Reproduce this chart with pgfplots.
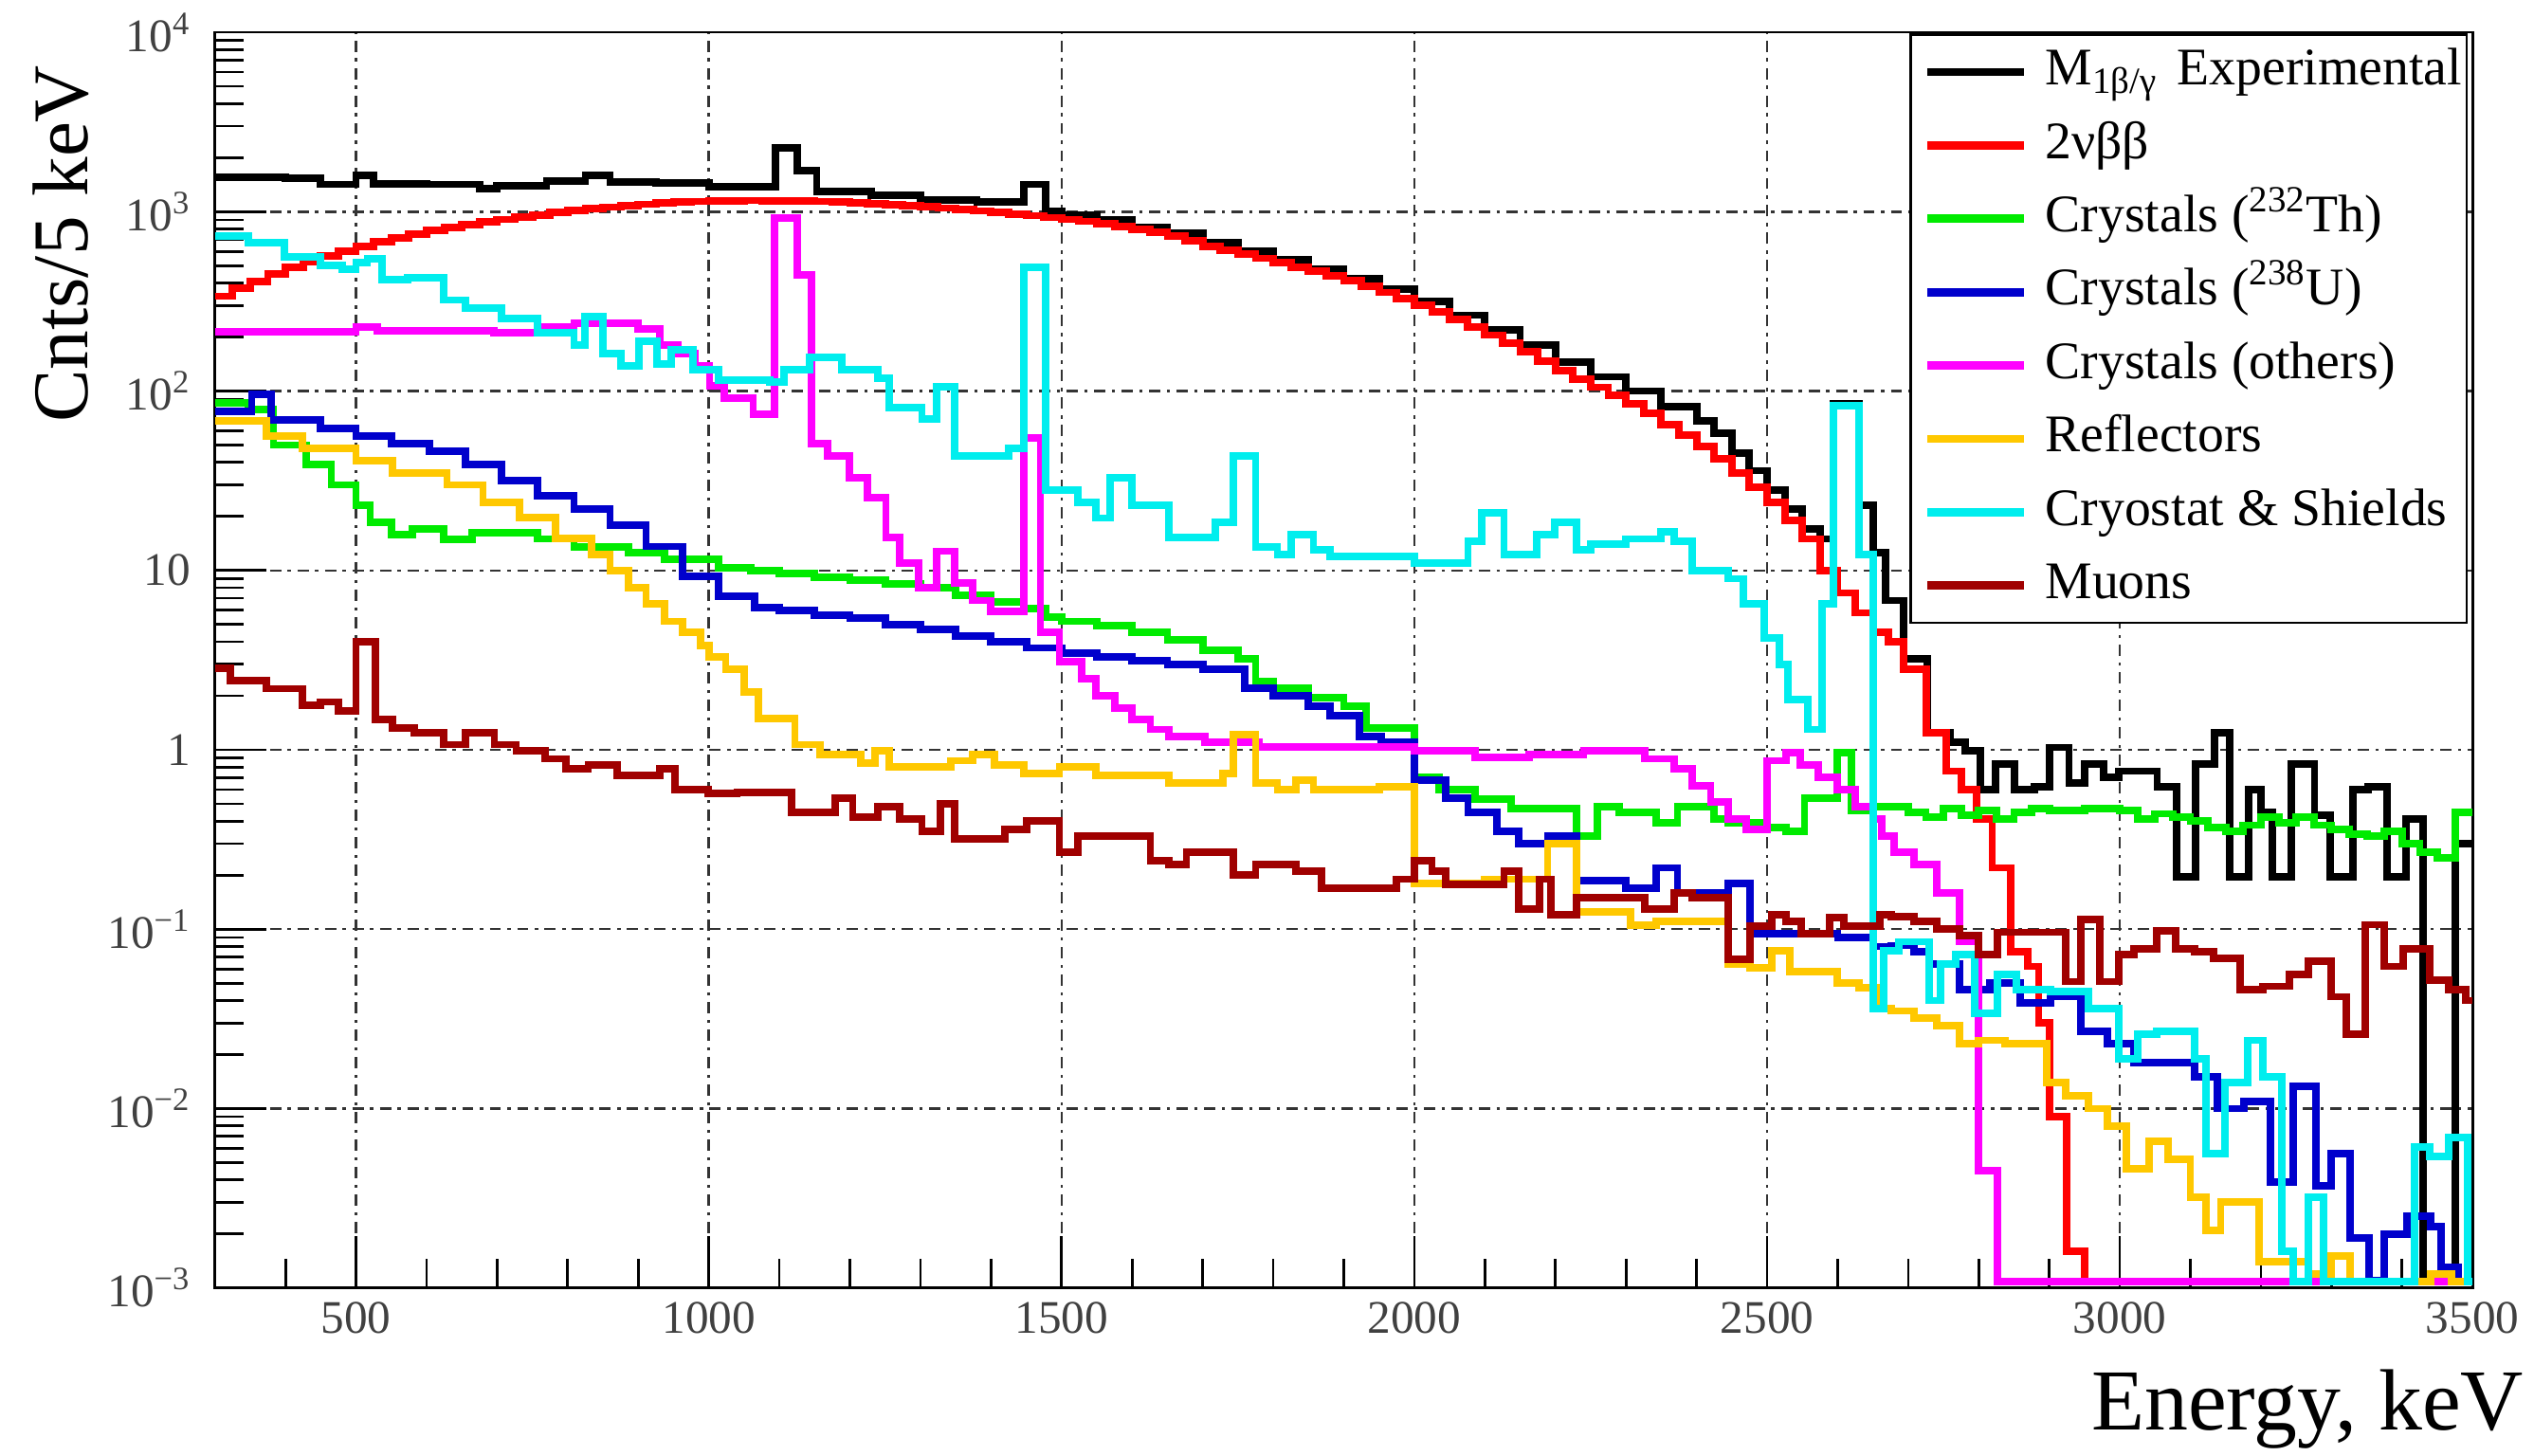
\documentclass[border=0pt]{standalone}
\usepackage{fontspec}
\setmainfont{Liberation Serif}
\usepackage{pgfplots}
\pgfplotsset{compat=1.18}
\definecolor{cblue}{RGB}{0,0,204}
\definecolor{cgreen}{RGB}{0,235,0}
\definecolor{cmag}{RGB}{255,0,255}
\definecolor{corange}{RGB}{255,200,0}
\definecolor{ccyan}{RGB}{0,238,238}
\definecolor{cmaroon}{RGB}{160,0,0}
\begin{document}
\begin{tikzpicture}
\begin{axis}[
  scale only axis, width=698.5bp, height=388.5bp,
  ymode=log, xmin=300, xmax=3500, ymin=1e-3, ymax=1e4,
  const plot,
  axis line style={line width=0.8bp},
  tick align=inside, xtick pos=left, ytick pos=left,
  every tick/.style={black, line width=0.8bp},
  major tick length=16bp, minor tick length=9bp,
  xtick={500,1000,1500,2000,2500,3000,3500},
  xticklabels={500,1000,1500,2000,2500,3000,3500},
  minor xtick={400,500,...,3400},
  ytick={1e-3,1e-2,1e-1,1,10,100,1000,10000},
  yticklabels={10\textsuperscript{−3},10\textsuperscript{−2},10\textsuperscript{−1},1,10,10\textsuperscript{2},10\textsuperscript{3},10\textsuperscript{4}},
  minor ytick={0.002,0.003,0.004,0.005,0.006,0.007,0.008,0.009,0.02,0.03,0.04,0.05,0.06,0.07,0.08,0.09,0.2,0.3,0.4,0.5,0.6,0.7,0.8,0.9,2,3,4,5,6,7,8,9,20,30,40,50,60,70,80,90,200,300,400,500,600,700,800,900,2000,3000,4000,5000,6000,7000,8000,9000},
  tick label style={font=\fontsize{14.5}{17}\selectfont, text=black!75},
  yticklabel style={xshift=-4bp},
  xticklabel style={yshift=-1bp},
  grid=major,
  major grid style={black!80, line width=0.7bp, dash pattern=on 3.5bp off 2bp on 1bp off 2bp},
  xlabel={Energy, keV},
  xlabel style={at={(axis description cs:1,0)}, anchor=north east, xshift=16bp, yshift=-25bp, inner sep=0pt, font=\fontsize{27}{30}\selectfont},
  ylabel={Cnts/5 keV},
  ylabel style={at={(axis description cs:0,1)}, anchor=north east, xshift=-10bp, yshift=56.5bp, inner sep=0pt, font=\fontsize{24.5}{28}\selectfont},
  legend cell align=left,
  legend image code/.code={\path (0bp,0bp); \draw[#1,line width=2.6bp] (3.5bp,0bp) -- (33.5bp,0bp);},
  legend style={at={(axis description cs:0.998,0.999)}, anchor=north east, draw=black, line width=0.8bp, fill=white,
    font=\fontsize{16.4}{19}\selectfont, inner xsep=0.5bp, inner ysep=2bp, row sep=3.7bp, column sep=4.2bp,
    nodes={inner sep=1bp, text height=12.5bp, text depth=4.5bp}},
]
% black: experimental
\addplot[black, line width=2.3bp] coordinates {
(300,1550)(350,1560)(400,1540)(450,1420)(500,1600)(525,1430)(600,1420)(675,1350)(700,1400)(770,1480)(825,1600)(860,1460)(925,1440)(1000,1380)(1095,2270)(1125,1690)(1153,1300)(1230,1230)(1300,1160)(1380,1130)(1446,1420)(1477,1000)(1500,960)(1550,900)(1600,820)(1650,760)(1700,670)(1750,600)(1800,540)(1850,480)(1900,425)(1950,370)(2000,315)(2050,265)(2100,220)(2150,180)(2200,145)(2250,120)(2300,100)(2350,82)(2400,68)(2425,58)(2450,45)(2475,36)(2500,28)(2525,22)(2550,17)(2575,15)(2594,85)(2630,23)(2650,12.6)(2668,6.8)(2694,3.2)(2727,1.24)(2759,1.1)(2781,0.99)(2802,0.6)(2824,0.83)(2851,0.6)(2879,0.62)(2900,1.03)(2928,0.65)(2950,0.83)(2977,0.70)(2998,0.76)(3053,0.62)(3080,0.195)(3107,0.83)(3134,1.24)(3156,0.195)(3183,0.6)(3200,0.45)(3216,0.195)(3243,0.83)(3276,0.43)(3298,0.195)(3330,0.6)(3352,0.62)(3379,0.195)(3406,0.41)(3430,0.00108)(3475,0.3)(3500,0.3)};
\addlegendentry{M\textsubscript{1β/γ}\hspace{2bp} Experimental}
% red: 2nbb
\addplot[red, line width=2.3bp] coordinates {
(300,338)(325,375)(350,410)(375,450)(400,490)(425,528)(450,565)(475,600)(500,638)(525,677)(550,715)(575,750)(600,785)(625,818)(650,850)(675,878)(700,905)(725,933)(750,960)(775,988)(800,1015)(825,1038)(850,1060)(875,1080)(900,1100)(925,1115)(950,1130)(975,1140)(1000,1150)(1025,1153)(1050,1155)(1075,1153)(1100,1150)(1125,1145)(1150,1140)(1175,1130)(1200,1120)(1225,1108)(1250,1095)(1275,1080)(1300,1065)(1325,1048)(1350,1030)(1375,1010)(1400,990)(1425,970)(1450,950)(1475,928)(1500,905)(1525,883)(1550,860)(1575,830)(1600,800)(1625,768)(1650,735)(1675,688)(1700,640)(1725,610)(1750,580)(1775,550)(1800,520)(1825,492)(1850,465)(1875,440)(1900,415)(1925,385)(1950,355)(1975,327)(2000,300)(2025,275)(2050,250)(2075,227)(2100,205)(2125,185)(2150,165)(2175,147)(2200,130)(2225,117)(2250,105)(2275,95)(2300,85)(2325,75)(2350,65)(2375,57)(2400,49)(2425,42)(2450,35)(2475,29)(2500,24)(2525,19)(2550,15)(2575,10)(2600,7.5)(2625,5.8)(2650,4.5)(2672,4.0)(2694,2.8)(2726,1.24)(2754,0.76)(2775,0.6)(2797,0.41)(2819,0.22)(2845,0.075)(2870,0.062)(2885,0.03)(2900,0.009)(2925,0.0016)(2950,0.00108)(3500,0.00108)};
\addlegendentry{2νββ}
% green: Th
\addplot[cgreen, line width=2.3bp] coordinates {
(300,86)(347,79)(383,50)(429,39)(465,30)(500,23)(520,18.6)(550,15.8)(580,17)(624,14.9)(665,16.3)(757,15)(809,13.5)(886,12.6)(937,11.5)(1014,10.3)(1060,10)(1100,9.6)(1150,9.2)(1200,8.8)(1250,8.4)(1300,8.0)(1350,7.3)(1400,6.7)(1446,6.1)(1477,5.5)(1500,5.2)(1550,4.9)(1600,4.5)(1650,4.1)(1700,3.6)(1750,3.2)(1775,2.4)(1800,2.2)(1850,1.95)(1900,1.75)(1932,1.32)(2000,0.70)(2035,0.6)(2086,0.53)(2137,0.47)(2230,0.33)(2260,0.48)(2290,0.45)(2343,0.39)(2373,0.48)(2425,0.41)(2445,0.39)(2496,0.37)(2527,0.35)(2553,0.54)(2599,0.96)(2620,0.46)(2650,0.48)(2700,0.45)(2725,0.42)(2750,0.47)(2775,0.43)(2800,0.46)(2825,0.41)(2850,0.45)(2875,0.47)(2900,0.46)(2950,0.47)(3000,0.46)(3025,0.41)(3050,0.44)(3075,0.42)(3100,0.4)(3125,0.37)(3150,0.35)(3175,0.38)(3200,0.42)(3225,0.39)(3250,0.42)(3275,0.38)(3300,0.36)(3325,0.34)(3350,0.33)(3375,0.35)(3400,0.30)(3425,0.27)(3450,0.25)(3475,0.45)(3500,0.45)};
\addlegendentry{Crystals (\textsuperscript{232}Th)}
% blue: U
\addplot[cblue, line width=2.3bp] coordinates {
(300,77)(352,96)(380,69)(450,62)(500,56)(550,51)(604,46)(655,39)(706,31.6)(757,26)(809,22)(860,17.8)(911,13.6)(963,9.3)(1014,7.2)(1065,6.2)(1100,6.0)(1150,5.6)(1200,5.4)(1250,5.0)(1300,4.7)(1350,4.3)(1400,4.0)(1450,3.7)(1500,3.45)(1550,3.3)(1600,3.15)(1650,3.0)(1700,2.8)(1760,2.2)(1800,2.0)(1850,1.75)(1881,1.55)(1922,1.19)(1953,1.1)(2000,0.68)(2045,0.54)(2076,0.45)(2117,0.35)(2148,0.30)(2189,0.33)(2230,0.187)(2300,0.17)(2343,0.22)(2373,0.16)(2445,0.18)(2476,0.094)(2600,0.09)(2650,0.08)(2676,0.081)(2708,0.075)(2730,0.064)(2773,0.046)(2816,0.05)(2859,0.039)(2902,0.042)(2945,0.027)(2982,0.023)(3020,0.018)(3106,0.015)(3138,0.01)(3176,0.011)(3213,0.0039)(3246,0.0133)(3278,0.0037)(3299,0.0056)(3326,0.0019)(3353,0.0011)(3375,0.002)(3407,0.0025)(3440,0.0022)(3455,0.0013)(3480,0.00108)(3500,0.00108)};
\addlegendentry{Crystals (\textsuperscript{238}U)}
% magenta: others
\addplot[cmag, line width=2.3bp] coordinates {
(300,214)(500,228)(530,216)(695,211)(757,228)(809,240)(900,222)(930,180)(956,162)(981,138)(1001,107)(1022,91)(1063,74)(1093,920)(1125,442)(1145,51)(1168,43.5)(1199,33)(1225,25.5)(1251,15.2)(1271,11)(1297,8)(1323,12.8)(1348,8.5)(1374,6.8)(1400,5.9)(1446,55)(1470,4.5)(1497,3.1)(1528,2.5)(1549,2.0)(1575,1.7)(1600,1.47)(1626,1.3)(1652,1.19)(1703,1.1)(1780,1.04)(2000,0.99)(2086,0.91)(2163,0.94)(2240,0.99)(2327,0.89)(2368,0.78)(2394,0.63)(2420,0.51)(2445,0.41)(2470,0.36)(2500,0.87)(2527,0.96)(2547,0.82)(2573,0.70)(2599,0.6)(2625,0.48)(2650,0.41)(2662,0.33)(2680,0.27)(2708,0.23)(2740,0.16)(2773,0.085)(2800,0.0045)(2826,0.00108)(3500,0.00108)};
\addlegendentry{Crystals (others)}
% orange: reflectors
\addplot[corange, line width=2.3bp] coordinates {
(300,68)(373,56)(424,48)(500,41)(552,35)(629,30)(680,24)(732,19.7)(783,15.1)(834,12.3)(860,10)(886,8)(911,6.5)(937,5.2)(963,4.5)(988,3.8)(1000,3.3)(1024,2.8)(1050,2.1)(1070,1.5)(1122,1.07)(1158,0.94)(1215,0.84)(1236,0.99)(1256,0.8)(1343,0.87)(1374,0.94)(1405,0.82)(1446,0.74)(1497,0.8)(1549,0.72)(1652,0.65)(1729,0.74)(1744,1.22)(1775,0.65)(1806,0.6)(1832,0.68)(1857,0.6)(1950,0.62)(2000,0.18)(2100,0.19)(2189,0.3)(2230,0.125)(2306,0.105)(2343,0.11)(2445,0.064)(2476,0.061)(2507,0.076)(2532,0.058)(2599,0.05)(2630,0.047)(2660,0.036)(2676,0.035)(2708,0.032)(2740,0.029)(2773,0.023)(2800,0.024)(2837,0.023)(2896,0.014)(2923,0.0118)(2955,0.01)(2982,0.008)(3009,0.0046)(3041,0.0066)(3068,0.0052)(3100,0.0032)(3122,0.0021)(3143,0.003)(3197,0.0014)(3267,0.0012)(3299,0.0015)(3326,0.00108)(3440,0.0012)(3470,0.00108)(3500,0.00108)};
\addlegendentry{Reflectors}
% cyan: cryostat & shields
\addplot[ccyan, line width=2.3bp] coordinates {
(300,730)(347,673)(398,560)(450,504)(480,477)(500,518)(516,545)(537,420)(573,430)(624,322)(655,290)(706,254)(757,211)(809,180)(824,260)(850,162)(875,138)(901,190)(927,142)(947,170)(978,131)(1014,115)(1086,112)(1107,131)(1143,154)(1189,131)(1240,118)(1256,81)(1302,70)(1323,106)(1348,43.5)(1425,48)(1446,490)(1477,28)(1523,24)(1549,19.6)(1569,33)(1600,23)(1652,15.2)(1718,18.6)(1744,43.6)(1775,13.5)(1806,12.3)(1826,15.8)(1857,13)(1881,12)(2000,11)(2076,14.5)(2096,21)(2127,12.3)(2173,15.8)(2199,18.6)(2230,13)(2250,14)(2300,15)(2350,16.5)(2368,14.5)(2394,10)(2445,9)(2466,6.5)(2496,4.2)(2517,3.0)(2530,1.9)(2558,1.3)(2578,6.5)(2594,83)(2630,12.3)(2650,0.036)(2665,0.076)(2687,0.085)(2730,0.04)(2746,0.064)(2767,0.072)(2794,0.034)(2826,0.056)(2853,0.046)(2902,0.045)(2955,0.036)(2998,0.019)(3025,0.026)(3052,0.027)(3106,0.019)(3122,0.0056)(3149,0.014)(3181,0.024)(3203,0.015)(3230,0.0016)(3246,0.00108)(3267,0.0032)(3289,0.00108)(3418,0.0061)(3439,0.0054)(3466,0.0069)(3493,0.00108)(3500,0.00108)};
\addlegendentry{Cryostat \& Shields}
% maroon: muons
\addplot[cmaroon, line width=2.3bp] coordinates {
(300,2.86)(322,2.44)(373,2.19)(424,1.77)(450,1.85)(475,1.64)(500,4.0)(527,1.47)(552,1.32)(583,1.25)(624,1.07)(655,1.25)(696,1.07)(727,0.99)(768,0.89)(798,0.78)(829,0.82)(870,0.72)(931,0.78)(952,0.6)(999,0.57)(1040,0.58)(1117,0.45)(1179,0.54)(1204,0.42)(1240,0.48)(1271,0.41)(1302,0.35)(1328,0.5)(1348,0.32)(1420,0.36)(1451,0.4)(1497,0.27)(1523,0.33)(1626,0.24)(1652,0.23)(1677,0.27)(1744,0.2)(1775,0.23)(1832,0.21)(1868,0.17)(1975,0.19)(2000,0.24)(2025,0.21)(2045,0.177)(2127,0.21)(2148,0.13)(2178,0.19)(2194,0.12)(2230,0.15)(2327,0.13)(2368,0.16)(2394,0.15)(2445,0.068)(2476,0.104)(2507,0.12)(2527,0.11)(2548,0.094)(2589,0.116)(2609,0.104)(2660,0.12)(2676,0.118)(2708,0.11)(2740,0.1)(2773,0.092)(2800,0.072)(2827,0.096)(2923,0.051)(2945,0.113)(2972,0.051)(2998,0.072)(3020,0.078)(3052,0.098)(3079,0.078)(3106,0.075)(3133,0.069)(3170,0.046)(3203,0.048)(3240,0.056)(3267,0.066)(3299,0.042)(3321,0.026)(3348,0.106)(3375,0.062)(3402,0.078)(3439,0.052)(3466,0.046)(3490,0.04)(3500,0.04)};
\addlegendentry{Muons}
\end{axis}
\pgfresetboundingbox
\path[use as bounding box] (current axis.south west) ++(-66.5bp,-52bp) rectangle ++(784bp,450.5bp);
\end{tikzpicture}
\end{document}
